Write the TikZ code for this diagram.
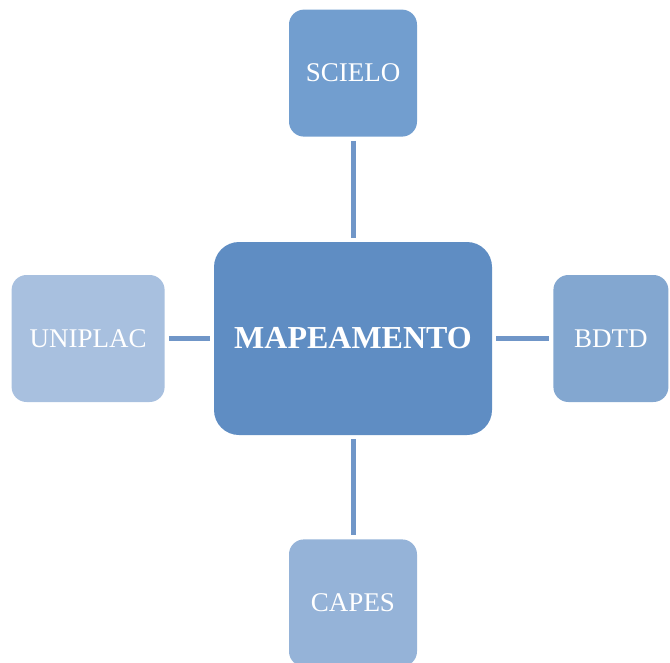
\documentclass[tikz,border=0pt]{standalone}
\usepackage{fontspec}
\setmainfont{Liberation Serif}
\usetikzlibrary{positioning}
\definecolor{mapblue}{HTML}{5F8DC3}
\definecolor{scieloblue}{HTML}{729ECF}
\definecolor{bdtdblue}{HTML}{83A7D0}
\definecolor{capesblue}{HTML}{95B3D8}
\definecolor{uniplacblue}{HTML}{A8C0DF}
\definecolor{linkblue}{HTML}{7096C8}

\begin{document}
\begin{tikzpicture}[x=1pt, y=-1pt, every node/.style={font=\fontsize{27}{30}\selectfont, text=white}]
\tikzstyle{source}=[rectangle, rounded corners=15pt, inner sep=0pt, minimum height=127pt]
\tikzstyle{link}=[draw=linkblue, line width=5pt, shorten <=4pt, shorten >=4pt]
\useasboundingbox (0,0) rectangle (670,662);

% Central node
\node[rectangle, rounded corners=25pt, fill=mapblue, minimum width=278pt, minimum height=193pt, inner sep=0pt,
  font=\fontsize{32}{36}\selectfont\bfseries] (map) at (353,338.5) {MAPEAMENTO};

% Sources around it
\node[source, fill=scieloblue, minimum width=128pt, above=105pt of map] (scielo) {SCIELO};
\node[source, fill=uniplacblue, minimum width=153pt, left=49pt of map] (uniplac) {UNIPLAC};
\node[source, fill=bdtdblue, minimum width=115pt, right=61pt of map] (bdtd) {BDTD};
\node[source, fill=capesblue, minimum width=128pt, below=104pt of map] (capes) {CAPES};

% Links
\draw[link] (scielo) -- (map);
\draw[link] (uniplac) -- (map);
\draw[link] (map) -- (bdtd);
\draw[link] (map) -- (capes);
\end{tikzpicture}
\end{document}
